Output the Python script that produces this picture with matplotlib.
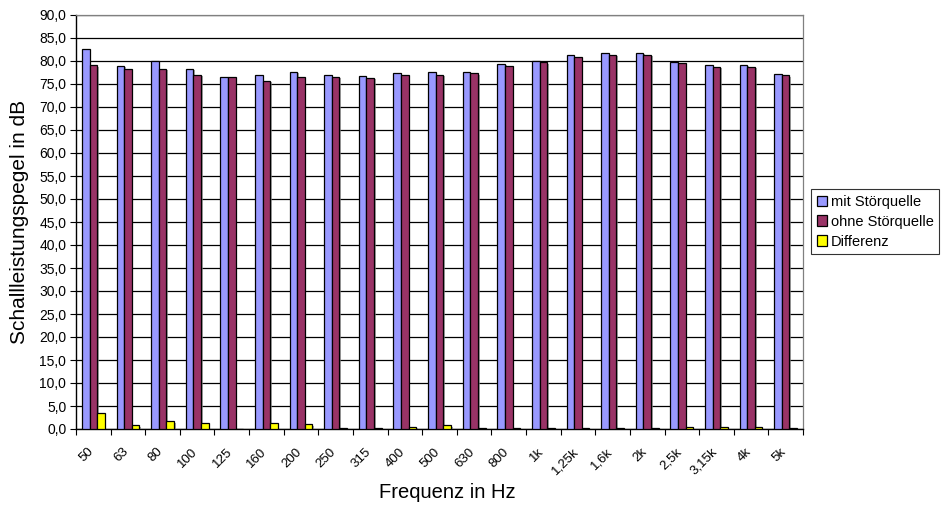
import numpy as np
import matplotlib
matplotlib.use("Agg")
import matplotlib.pyplot as plt
import matplotlib.patheffects as pe
from matplotlib.ticker import FuncFormatter, MultipleLocator

plt.rcParams['font.family'] = ['Liberation Sans', 'DejaVu Sans']

# terzband centre frequencies
freqs = ["50", "63", "80", "100", "125", "160", "200", "250", "315", "400", "500",
         "630", "800", "1k", "1,25k", "1,6k", "2k", "2,5k", "3,15k", "4k", "5k"]

# sound power level in dB
mit_stoer = [82.5, 79.0, 80.0, 78.3, 76.6, 77.0, 77.7, 76.9, 76.7, 77.3, 77.7,
             77.7, 79.4, 80.1, 81.2, 81.7, 81.8, 79.8, 79.2, 79.2, 77.2]
ohne_stoer = [79.1, 78.2, 78.3, 77.0, 76.5, 75.7, 76.6, 76.6, 76.4, 76.9, 77.0,
              77.4, 79.0, 79.8, 80.9, 81.4, 81.4, 79.5, 78.8, 78.8, 76.9]
differenz = [3.4, 0.8, 1.7, 1.3, 0.1, 1.3, 1.1, 0.3, 0.3, 0.5, 0.8,
             0.3, 0.3, 0.3, 0.3, 0.3, 0.3, 0.4, 0.4, 0.4, 0.3]

fig = plt.figure(figsize=(9.44, 5.07), dpi=100)
ax = fig.add_axes([76/944, 1-429/507, (803-76)/944, (429-15)/507])

x = np.arange(len(freqs))
w = 0.22
shadow = [pe.SimplePatchShadow(offset=(1.2, -1.2), shadow_rgbFace='#808080', alpha=0.7), pe.Normal()]

series = [(mit_stoer, '#9999FF', 'mit Störquelle'),
          (ohne_stoer, '#993366', 'ohne Störquelle'),
          (differenz, '#FFFF00', 'Differenz')]
for i, (vals, col, lab) in enumerate(series):
    bars = ax.bar(x + (i - 1) * w, vals, w, color=col, edgecolor='black',
                  linewidth=0.9, label=lab, zorder=3)
    for b in bars:
        b.set_path_effects(shadow)

ax.set_xlim(-0.5, len(freqs) - 0.5)
ax.set_ylim(0, 90)
ax.yaxis.set_major_locator(MultipleLocator(5))
ax.yaxis.set_major_formatter(FuncFormatter(lambda v, p: f"{v:.1f}".replace('.', ',')))
ax.grid(axis='y', color='black', linewidth=0.9, zorder=0)
ax.set_axisbelow(True)

# category ticks sit between the groups; labels hang just left of each centre
ax.set_xticks(np.arange(len(freqs) + 1) - 0.5)
ax.set_xticklabels([])
ax.set_xticks(x - 0.17, minor=True)
ax.set_xticklabels(freqs, minor=True, rotation=45, ha='right', va='top',
                   rotation_mode='anchor', fontsize=9.5)
ax.tick_params(axis='x', which='major', length=4, width=0.8, direction='out')
ax.tick_params(axis='x', which='minor', length=0, pad=12)
ax.tick_params(axis='y', length=4, width=0.8, labelsize=10, pad=3)

for side in ['top', 'right']:
    ax.spines[side].set_color('#808080')
    ax.spines[side].set_linewidth(0.9)
ax.spines['left'].set_linewidth(1.0)
ax.spines['bottom'].set_linewidth(1.0)

fig.text(20/944, 1-222/507, "Schallleistungspegel in dB", rotation=90,
         ha='center', va='center', fontsize=15)
fig.text(447/944, 1-493/507, "Frequenz in Hz", ha='center', va='center', fontsize=14.5)

leg = ax.legend(loc='upper left', bbox_to_anchor=(811/944, 1-189/507),
                bbox_transform=fig.transFigure, fontsize=10.5, frameon=True,
                fancybox=False, edgecolor='black', handlelength=0.7, handleheight=0.7,
                handletextpad=0.25, borderpad=0.4, labelspacing=0.4, borderaxespad=0)
leg.get_frame().set_linewidth(0.8)
for h in leg.legend_handles:
    h.set_path_effects([])

fig.savefig("out.png", dpi=100)
